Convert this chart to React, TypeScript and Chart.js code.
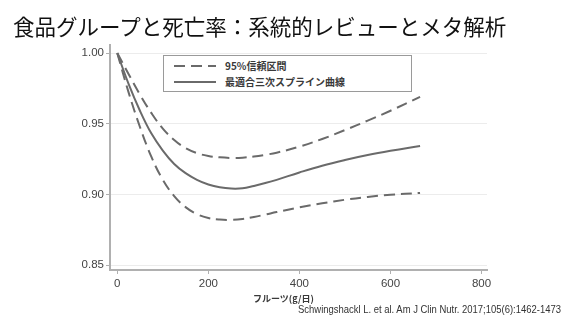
import React, { useEffect, useRef } from "react";
import { Chart, registerables } from "chart.js";

Chart.register(...registerables);

const TITLE = "食品グループと死亡率：系統的レビューとメタ解析";
const X_TITLE = "フルーツ(g/日)";
const CITATION = "Schwingshackl L. et al. Am J Clin Nutr. 2017;105(6):1462-1473";
const LEGEND_CI = "95%信頼区間";
const LEGEND_FIT = "最適合三次スプライン曲線";

const xValues = [0, 25, 50, 75, 100, 125, 150, 175, 200, 225, 250, 275, 300, 325, 350, 400, 450, 500, 550, 600, 665];
const fitValues = [1.0, 0.978, 0.959, 0.943, 0.931, 0.9215, 0.915, 0.9103, 0.907, 0.905, 0.9041, 0.9043, 0.906, 0.908, 0.9103, 0.9155, 0.9203, 0.9243, 0.9278, 0.9308, 0.9343];
const upperValues = [1.0, 0.985, 0.9705, 0.9575, 0.9465, 0.9385, 0.9327, 0.9292, 0.9272, 0.9262, 0.9258, 0.926, 0.9268, 0.928, 0.9295, 0.9338, 0.9392, 0.9455, 0.9522, 0.9592, 0.969];
const lowerValues = [1.0, 0.972, 0.9475, 0.9265, 0.9103, 0.8988, 0.891, 0.886, 0.8833, 0.8822, 0.882, 0.8826, 0.884, 0.8857, 0.8875, 0.8908, 0.8937, 0.8962, 0.8982, 0.8997, 0.901];

const xTicks = [0, 200, 400, 600, 800];
const yTicks = [0.85, 0.9, 0.95, 1.0];

const LINE = "#6a6a6a";
const AXIS = "#b0b0b0";

function pts(ys: number[]) {
  return xValues.map((x, i) => ({ x, y: ys[i] }));
}

export default function App() {
  const ref = useRef<HTMLCanvasElement | null>(null);

  useEffect(() => {
    if (!ref.current) return;
    const common = {
      pointRadius: 0,
      borderWidth: 2,
      borderColor: LINE,
      fill: false,
      tension: 0.4,
    };
    const chart = new Chart(ref.current, {
      type: "line",
      data: {
        datasets: [
          { ...common, label: "upper", data: pts(upperValues), borderDash: [11, 6] },
          { ...common, label: "fit", data: pts(fitValues) },
          { ...common, label: "lower", data: pts(lowerValues), borderDash: [11, 6] },
        ],
      },
      options: {
        animation: false,
        responsive: false,
        maintainAspectRatio: false,
        layout: { padding: { left: 70, top: 45, right: 80, bottom: 19 } },
        plugins: { legend: { display: false }, tooltip: { enabled: false }, title: { display: false } },
        scales: {
          x: {
            type: "linear",
            min: -16,
            max: 812,
            afterBuildTicks: (s: any) => {
              s.ticks = xTicks.map((v) => ({ value: v }));
            },
            afterFit: (s: any) => {
              s.height = 30;
            },
            ticks: {
              color: "#444",
              font: { family: "'Liberation Sans', Arial, sans-serif", size: 11.5 },
              padding: 3,
              maxRotation: 0,
              callback: (v: any) => String(v),
            },
            grid: { drawOnChartArea: false, drawTicks: true, tickLength: 4, tickColor: AXIS, tickWidth: 1 },
            border: { color: AXIS, width: 2 },
          },
          y: {
            type: "linear",
            min: 0.8465,
            max: 1.0057,
            afterBuildTicks: (s: any) => {
              s.ticks = yTicks.map((v) => ({ value: v }));
            },
            afterFit: (s: any) => {
              s.width = 40;
            },
            ticks: {
              color: "#444",
              font: { family: "'Liberation Sans', Arial, sans-serif", size: 11.5 },
              padding: 2,
              callback: (v: any) => Number(v).toFixed(2),
            },
            grid: { color: "#ececec", lineWidth: 1, drawTicks: true, tickLength: 4, tickColor: AXIS, tickWidth: 1 },
            border: { color: AXIS, width: 2 },
          },
        },
      },
    } as any);
    return () => chart.destroy();
  }, []);

  const small = {
    position: "absolute" as const,
    fontFamily: "'Noto Sans CJK JP', sans-serif",
    fontSize: 10,
    lineHeight: "14px",
    color: "#3a3a3a",
    fontWeight: 700,
    whiteSpace: "nowrap" as const,
  };

  return (
    <div style={{ position: "absolute", left: 0, top: 0, width: 567, height: 319, background: "#fff", overflow: "hidden" }}>
      <canvas ref={ref} width={567} height={319} style={{ position: "absolute", left: 0, top: 0, width: 567, height: 319 }} />
      <div
        style={{
          position: "absolute",
          left: 13,
          top: 14,
          fontFamily: "'Noto Sans CJK JP', sans-serif",
          fontSize: 21.5,
          lineHeight: "24px",
          color: "#111",
          whiteSpace: "nowrap",
        }}
      >
        {TITLE}
      </div>
      <div
        style={{
          position: "absolute",
          left: 163,
          top: 55,
          width: 247,
          height: 35,
          border: "1px solid #9a9a9a",
          background: "#fff",
        }}
      >
        <svg width={60} height={35} style={{ position: "absolute", left: 0, top: 0 }}>
          <line x1={10} y1={10} x2={52} y2={10} stroke={LINE} strokeWidth={2} strokeDasharray="11 6" />
          <line x1={10} y1={26} x2={52} y2={26} stroke={LINE} strokeWidth={2} />
        </svg>
        <div style={{ ...small, left: 61, top: 3 }}>{LEGEND_CI}</div>
        <div style={{ ...small, left: 61, top: 19 }}>{LEGEND_FIT}</div>
      </div>
      <div style={{ ...small, left: 253, top: 292, fontSize: 9 }}>{X_TITLE}</div>
      <div
        style={{
          position: "absolute",
          left: 298,
          top: 303,
          fontFamily: "'Liberation Sans', sans-serif",
          fontSize: 11,
          lineHeight: "13px",
          color: "#333",
          whiteSpace: "nowrap",
          transform: "scaleX(0.86)",
          transformOrigin: "0 0",
        }}
      >
        {CITATION}
      </div>
    </div>
  );
}
